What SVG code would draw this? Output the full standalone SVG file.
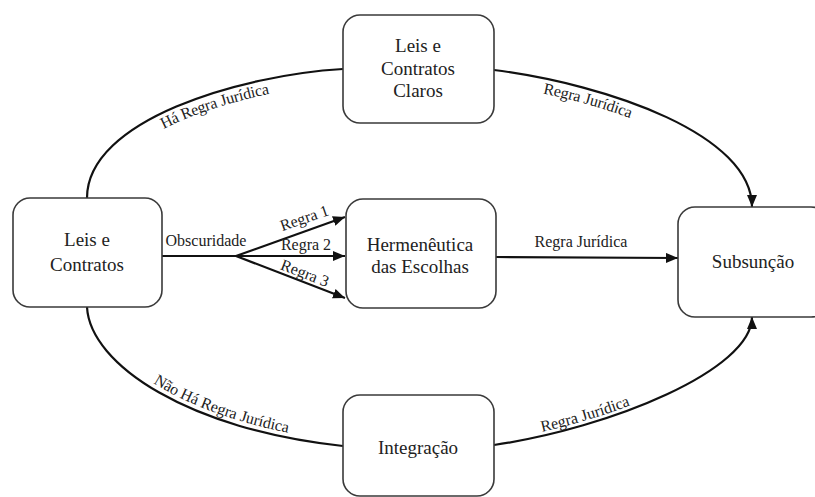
<svg xmlns="http://www.w3.org/2000/svg" width="815" height="497" viewBox="0 0 815 497">
<style>
.box{fill:#fff;stroke:#3a3a3a;stroke-width:1.6}
.nt{font-family:'Liberation Serif','DejaVu Serif','Times New Roman',serif;font-size:19px;fill:#222;text-anchor:middle}
.lb{font-family:'Liberation Serif','DejaVu Serif','Times New Roman',serif;font-size:16px;fill:#222}
.ln{fill:none;stroke:#111;stroke-width:2.2}
</style>
<defs>
<marker id="ah" markerUnits="userSpaceOnUse" markerWidth="12" markerHeight="10" viewBox="0 0 12 10" refX="12" refY="5" orient="auto">
<path d="M0,0 L12,5 L0,10 z" fill="#111"/>
</marker>
<path id="pTL" d="M87,198 C87,120 240,75 343,69"/>
<path id="pTR" d="M494,70 C610,85 752,135 752,207"/>
<path id="pBL" d="M87,307 C90,365 190,430 343,446"/>
<path id="pBR" d="M494,445 C610,428 752,370 752,317"/>
</defs>
<rect width="815" height="497" fill="#fff"/>
<g id="connectors">
<use href="#pTL" class="ln"/>
<use href="#pTR" class="ln" marker-end="url(#ah)"/>
<use href="#pBL" class="ln"/>
<use href="#pBR" class="ln" marker-end="url(#ah)"/>
<path class="ln" d="M162,256 L236,256"/>
<path class="ln" d="M236,256 L345,217" marker-end="url(#ah)"/>
<path class="ln" d="M236,256 L345,256" marker-end="url(#ah)"/>
<path class="ln" d="M236,256 L345,298" marker-end="url(#ah)"/>
<path class="ln" d="M496,257 L678,258" marker-end="url(#ah)"/>
<text class="lb" text-anchor="middle"><textPath href="#pTL" startOffset="56%"><tspan dy="15">Há Regra Jurídica</tspan></textPath></text>
<text class="lb" text-anchor="middle"><textPath href="#pTR" startOffset="32%"><tspan dy="15">Regra Jurídica</tspan></textPath></text>
<text class="lb" text-anchor="middle"><textPath href="#pBL" startOffset="58%"><tspan dy="-5">Não Há Regra Jurídica</tspan></textPath></text>
<text class="lb" text-anchor="middle"><textPath href="#pBR" startOffset="32%"><tspan dy="-4">Regra Jurídica</tspan></textPath></text>
<text class="lb" x="206" y="246" text-anchor="middle">Obscuridade</text>
<text class="lb" text-anchor="middle" transform="translate(306,223) rotate(-19)">Regra 1</text>
<text class="lb" x="306" y="250" text-anchor="middle">Regra 2</text>
<text class="lb" text-anchor="middle" transform="translate(303,278) rotate(21)">Regra 3</text>
<text class="lb" x="581" y="247" text-anchor="middle">Regra Jurídica</text>
</g>
<g id="leis-contratos">
<rect class="box" x="13" y="198" width="149" height="109" rx="17"/>
<text class="nt" x="87" y="246">Leis e</text>
<text class="nt" x="87" y="271">Contratos</text>
</g>
<g id="leis-contratos-claros">
<rect class="box" x="343" y="15" width="151" height="108" rx="17"/>
<text class="nt" x="418" y="52">Leis e</text>
<text class="nt" x="418" y="75">Contratos</text>
<text class="nt" x="418" y="97">Claros</text>
</g>
<g id="hermeneutica">
<rect class="box" x="346" y="199" width="150" height="109" rx="17"/>
<text class="nt" x="420" y="251">Hermenêutica</text>
<text class="nt" x="420" y="273">das Escolhas</text>
</g>
<g id="subsuncao">
<rect class="box" x="678" y="207" width="150" height="110" rx="17"/>
<text class="nt" x="753" y="268">Subsunção</text>
</g>
<g id="integracao">
<rect class="box" x="343" y="395" width="151" height="101" rx="17"/>
<text class="nt" x="418" y="454">Integração</text>
</g>
</svg>
